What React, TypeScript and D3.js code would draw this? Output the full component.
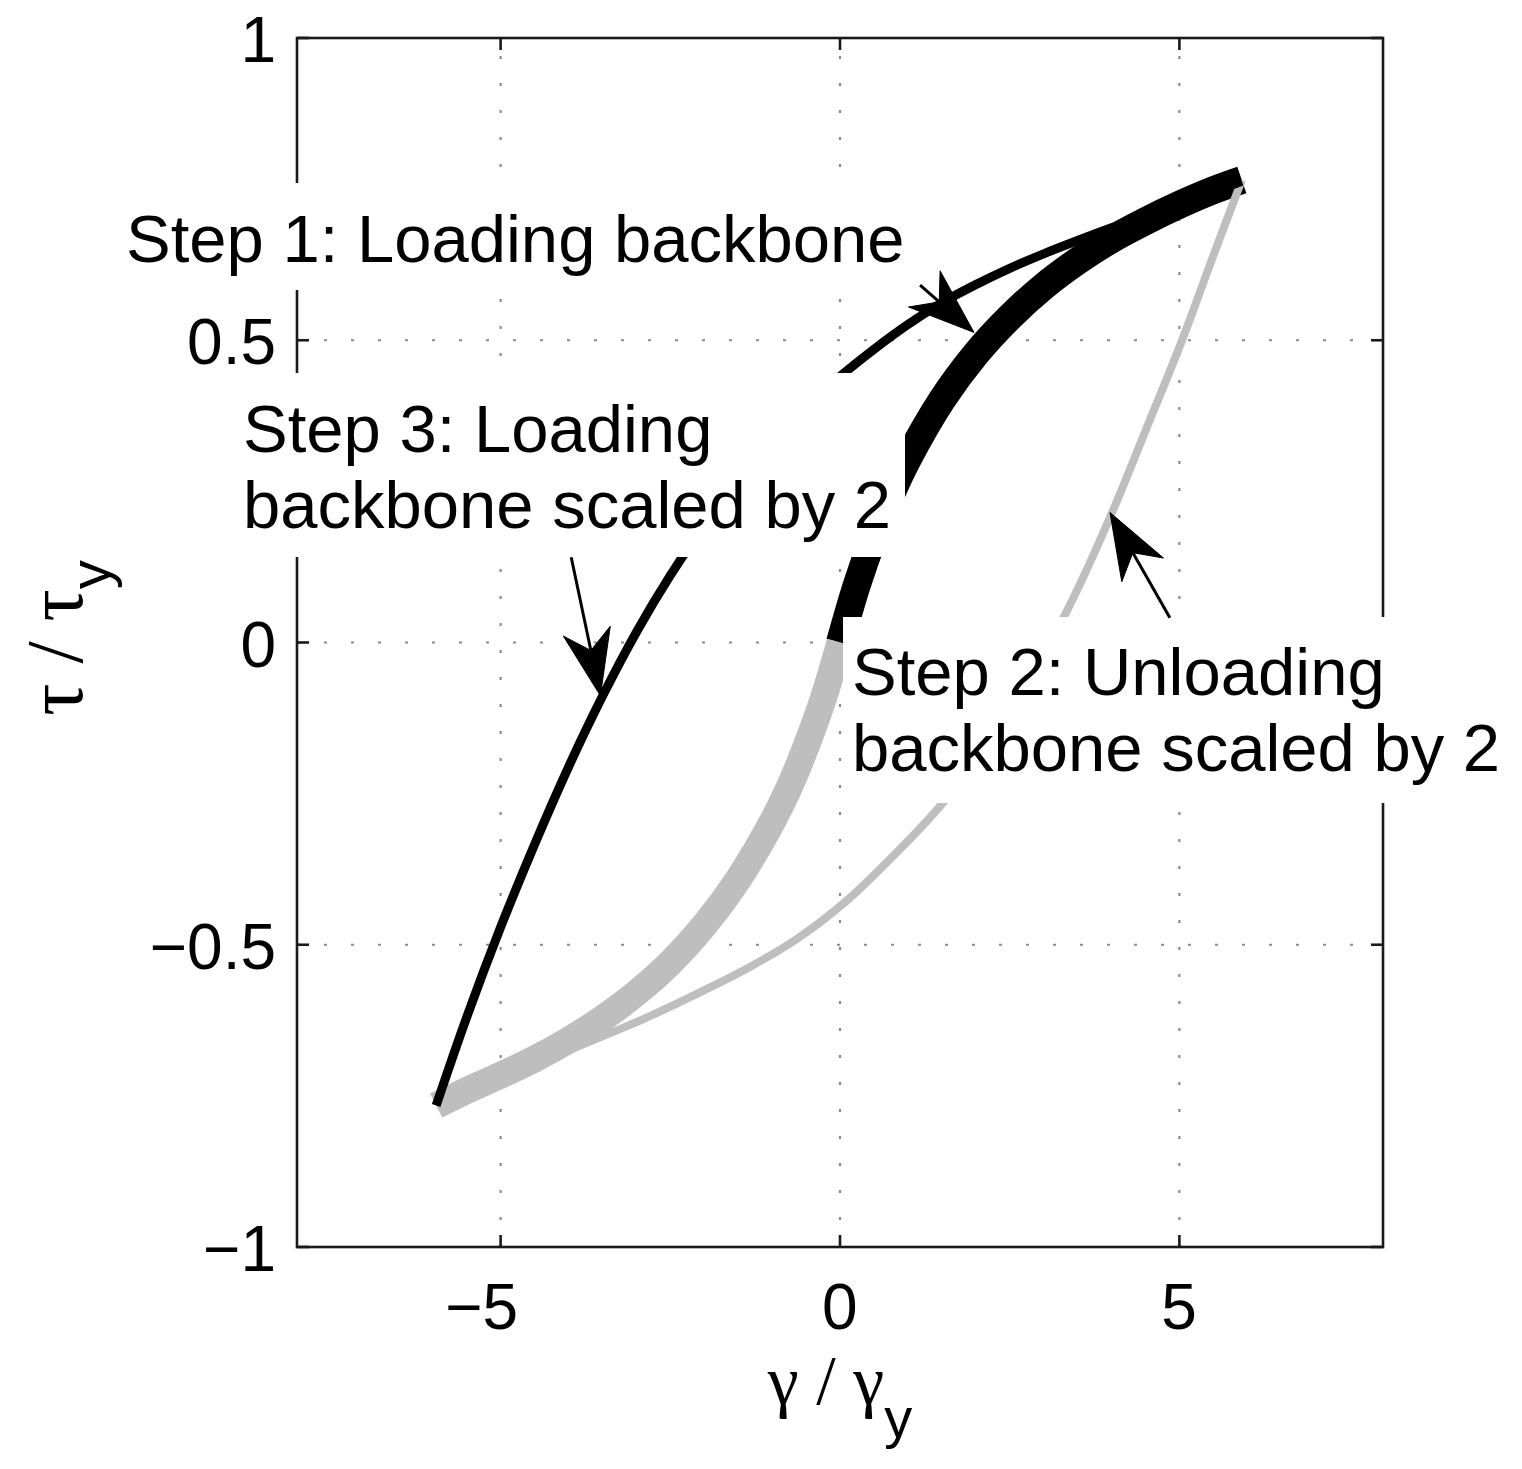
import React from "react";
import * as d3 from "d3";

// Axis ticks and grid
const xTickValues = [-5, 0, 5];
const xTickLabels = ["\u22125", "0", "5"];
const yTickValues = [-1, -0.5, 0, 0.5, 1];
const yTickLabels = ["\u22121", "\u22120.5", "0", "0.5", "1"];
const gridX = [-5, 0, 5];
const gridY = [-0.5, 0, 0.5];

// Step 1: loading backbone (γ/γy, τ/τy)
const loadGamma = [0, 0.25, 0.5, 0.75, 1, 1.5, 2, 2.5, 3, 3.5, 4, 4.5, 5, 5.5, 5.92];
const loadTau = [0, 0.096, 0.176, 0.245, 0.304, 0.401, 0.477, 0.538, 0.589, 0.631, 0.667, 0.697, 0.724, 0.748, 0.765];

// Backbone in the negative direction
const negGamma = [0, -0.25, -0.5, -0.75, -1, -1.5, -2, -2.5, -3, -3.5, -4, -4.5, -5, -5.5, -5.95];
const negTau = [0, -0.094, -0.172, -0.24, -0.297, -0.392, -0.468, -0.53, -0.58, -0.622, -0.658, -0.689, -0.716, -0.741, -0.766];

// Step 2: unloading branch (backbone scaled by 2)
const unloadGamma = [5.92, 5.5, 5.04, 4.5, 3.97, 3.31, 2.5, 1.54, 0.59, 0.1, -0.63, -1.3, -1.87, -2.84, -3.34, -4.2, -5.1, -5.95];
const unloadTau = [0.765, 0.64, 0.5, 0.35, 0.205, 0.045, -0.11, -0.262, -0.375, -0.427, -0.49, -0.535, -0.568, -0.62, -0.644, -0.684, -0.724, -0.766];

// Step 3: reloading branch (backbone scaled by 2)
const reloadGamma = [-5.95, -5.5, -5, -4.5, -4, -3.5, -3, -2.5, -2, -1.5, -1, -0.5, 0, 0.5, 1, 1.5, 2, 2.5, 3, 3.5, 4, 5, 5.92];
const reloadTau = [-0.766, -0.62, -0.471, -0.334, -0.206, -0.089, 0.017, 0.111, 0.194, 0.267, 0.331, 0.389, 0.44, 0.485, 0.526, 0.562, 0.592, 0.619, 0.643, 0.665, 0.686, 0.725, 0.763];

// Annotation arrows: tail and tip in data units
const arrowTails = [[1.18, 0.591], [4.86, 0.041], [-3.96, 0.141]];
const arrowTips = [[1.974, 0.513], [3.978, 0.215], [-3.53, -0.088]];

// Annotation texts
const labelLines = [
  ["Step 1: Loading backbone"],
  ["Step 2: Unloading", "backbone scaled by 2"],
  ["Step 3: Loading", "backbone scaled by 2"],
];

const SANS = "'Liberation Sans', Arial, Helvetica, sans-serif";
const SERIF = "'Liberation Serif', 'Times New Roman', serif";

type Pt = [number, number];
const zip = (g: number[], t: number[]): Pt[] => g.map((v, i) => [v, t[i]] as Pt);

export default function App() {
  const width = 1522;
  const height = 1469;
  const plot = { left: 297, right: 1383, top: 38, bottom: 1247 };

  const x = d3.scaleLinear().domain([-8, 8]).range([plot.left, plot.right]);
  const y = d3.scaleLinear().domain([-1, 1]).range([plot.bottom, plot.top]);

  const line = d3
    .line<Pt>()
    .x((d) => x(d[0]))
    .y((d) => y(d[1]))
    .curve(d3.curveCatmullRom.alpha(0.5));

  const gray = "#bebebe";
  const tickLen = 12;
  const tickFont = 64;
  const noteFont = 67;

  // text boxes with white background, pixel layout
  const boxes = [
    { x0: 116, x1: 920, y0: 183, y1: 290, tx: 126, base: [262] },
    { x0: 843, x1: 1514, y0: 617, y1: 803, tx: 852, base: [695, 771] },
    { x0: 233, x1: 905, y0: 373, y1: 557, tx: 243, base: [452, 528] },
  ];

  const arrowShape = (tail: number[], tip: number[]) => {
    const fx = x(tail[0]);
    const fy = y(tail[1]);
    const tx = x(tip[0]);
    const ty = y(tip[1]);
    const dx = tx - fx;
    const dy = ty - fy;
    const len = Math.hypot(dx, dy);
    const ux = dx / len;
    const uy = dy / len;
    const px = -uy;
    const py = ux;
    const L = 66;
    const Wh = 24;
    const notch = 0.7 * L;
    const c1 = [tx - L * ux + Wh * px, ty - L * uy + Wh * py];
    const c2 = [tx - L * ux - Wh * px, ty - L * uy - Wh * py];
    const n = [tx - notch * ux, ty - notch * uy];
    return {
      shaft: { x1: fx, y1: fy, x2: n[0], y2: n[1] },
      head: `M${tx},${ty}L${c1[0]},${c1[1]}L${n[0]},${n[1]}L${c2[0]},${c2[1]}Z`,
    };
  };

  return (
    <svg
      width={width}
      height={height}
      viewBox={`0 0 ${width} ${height}`}
      style={{ position: "absolute", left: 0, top: 0, background: "#fff" }}
    >
      <rect x={0} y={0} width={width} height={height} fill="#fff" />

      {/* dotted grid */}
      <g stroke="#8a8a8a" strokeWidth={2.2} strokeDasharray="3 24" fill="none">
        {gridX.map((v) => (
          <line key={`gx${v}`} x1={x(v)} x2={x(v)} y1={plot.bottom} y2={plot.top} />
        ))}
        {gridY.map((v) => (
          <line key={`gy${v}`} x1={plot.left} x2={plot.right} y1={y(v)} y2={y(v)} />
        ))}
      </g>

      {/* curves */}
      <g fill="none" strokeLinejoin="round">
        <path d={line(zip(loadGamma, loadTau)) || ""} stroke="#000" strokeWidth={28} />
        <path d={line(zip(negGamma, negTau)) || ""} stroke={gray} strokeWidth={27} />
        <path d={line(zip(unloadGamma, unloadTau)) || ""} stroke={gray} strokeWidth={8} />
        <path d={line(zip(reloadGamma, reloadTau)) || ""} stroke="#000" strokeWidth={9} />
      </g>

      {/* axes box and ticks */}
      <g stroke="#1a1a1a" strokeWidth={2.6} fill="none">
        <rect x={plot.left} y={plot.top} width={plot.right - plot.left} height={plot.bottom - plot.top} />
        {xTickValues.map((v) => (
          <g key={`xt${v}`}>
            <line x1={x(v)} x2={x(v)} y1={plot.bottom} y2={plot.bottom - tickLen} />
            <line x1={x(v)} x2={x(v)} y1={plot.top} y2={plot.top + tickLen} />
          </g>
        ))}
        {yTickValues.map((v) => (
          <g key={`yt${v}`}>
            <line x1={plot.left} x2={plot.left + tickLen} y1={y(v)} y2={y(v)} />
            <line x1={plot.right} x2={plot.right - tickLen} y1={y(v)} y2={y(v)} />
          </g>
        ))}
      </g>

      {/* tick labels */}
      <g fontFamily={SANS} fontSize={tickFont} fill="#000">
        {xTickValues.map((v, i) => (
          <text key={`xl${v}`} x={x(v) + 17.5} y={1329} textAnchor="end">
            {xTickLabels[i]}
          </text>
        ))}
        {yTickValues.map((v, i) => (
          <text key={`yl${v}`} x={276} y={y(v) + 24} textAnchor="end">
            {yTickLabels[i]}
          </text>
        ))}
      </g>

      {/* axis labels */}
      <text x={x(0)} y={1404} textAnchor="middle" fontFamily={SERIF} fontSize={70} fill="#000">
        γ / γ
        <tspan fontFamily={SANS} fontSize={56} dy={33}>y</tspan>
      </text>
      <text
        transform={`translate(82, 638) rotate(-90)`}
        textAnchor="middle"
        fontFamily={SERIF}
        fontSize={80}
        fill="#000"
      >
        τ / τ
        <tspan fontFamily={SANS} fontSize={58} dy={28}>y</tspan>
      </text>

      {/* annotation text boxes */}
      {boxes.map((b, i) => (
        <g key={`box${i}`}>
          <rect x={b.x0} y={b.y0} width={b.x1 - b.x0} height={b.y1 - b.y0} fill="#fff" />
          {labelLines[i].map((s, j) => (
            <text key={j} x={b.tx} y={b.base[j]} fontFamily={SANS} fontSize={noteFont} fill="#000">
              {s}
            </text>
          ))}
        </g>
      ))}

      {/* annotation arrows */}
      {arrowTails.map((t, i) => {
        const a = arrowShape(t, arrowTips[i]);
        return (
          <g key={`ar${i}`}>
            <line {...a.shaft} stroke="#000" strokeWidth={3} />
            <path d={a.head} fill="#000" stroke="#000" strokeWidth={1} strokeLinejoin="miter" />
          </g>
        );
      })}
    </svg>
  );
}
